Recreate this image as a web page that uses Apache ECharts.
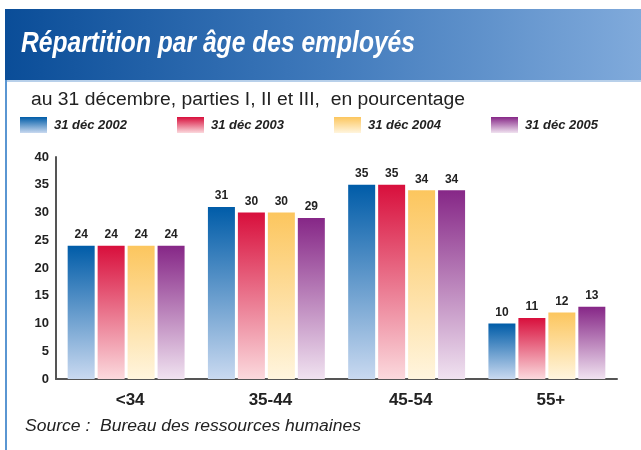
<!DOCTYPE html>
<html><head><meta charset="utf-8">
<script src="https://cdn.jsdelivr.net/npm/echarts@6/dist/echarts.min.js"></script>
<style>html,body{margin:0;padding:0;background:#fff}#c{width:641px;height:450px}</style>
</head><body><div id="c"></div>
<script>
const categories = ['<34', '35-44', '45-54', '55+'];
const seriesNames = ['31 déc 2002', '31 déc 2003', '31 déc 2004', '31 déc 2005'];
const values2002 = [24, 31, 35, 10];
const values2003 = [24, 30, 35, 11];
const values2004 = [24, 30, 34, 12];
const values2005 = [24, 29, 34, 13];
const yTicks = [0, 5, 10, 15, 20, 25, 30, 35, 40];
const titleText = 'Répartition par âge des employés';
const subtitleText = 'au 31 décembre, parties I, II et III,  en pourcentage';
const sourceText = 'Source :  Bureau des ressources humaines';

const allValues = [values2002, values2003, values2004, values2005];
const gradients = [
  ['#005ca8', '#c9d9f0'],
  ['#d80f3c', '#fbd9dd'],
  ['#fcc65e', '#fff5de'],
  ['#862787', '#f0e2f0']
];
const FF = "'Liberation Sans', Arial, sans-serif";

function grad(c) {
  return new echarts.graphic.LinearGradient(0, 0, 0, 1, [
    { offset: 0, color: c[0] }, { offset: 1, color: c[1] }
  ]);
}
const ctx = document.createElement('canvas').getContext('2d');
function fitScale(text, font, width) {
  ctx.font = font;
  return width / ctx.measureText(text).width;
}
function squeezedText(text, font, size, x, baseline, width, fill) {
  return { type: 'text', x: x, y: baseline - Math.round(0.83 * size), scaleX: fitScale(text, font, width), scaleY: 1,
    style: { text: text, font: font, fill: fill, x: 0, y: 0, verticalAlign: 'top', align: 'left' } };
}

const titleFont = 'italic bold 30px ' + FF;
const subFont = '18px ' + FF;
const srcFont = 'italic 16px ' + FF;

const chart = echarts.init(document.getElementById('c'));
chart.setOption({
  animation: false,
  graphic: [
    { type: 'rect', left: 5, top: 9, shape: { width: 636, height: 71 },
      style: { fill: new echarts.graphic.LinearGradient(0, 0, 1, 0, [
        { offset: 0, color: '#0a4d98' }, { offset: 0.5, color: '#3f79bb' }, { offset: 1, color: '#80aadb' }]) } },
    { type: 'rect', left: 5, top: 80, shape: { width: 636, height: 2 }, style: { fill: '#b8d0ea' } },
    { type: 'rect', left: 5, top: 80, shape: { width: 2, height: 370 }, style: { fill: '#5a96d2' } },
    squeezedText(titleText, titleFont, 30, 21, 54, 394, '#fff'),
    squeezedText(subtitleText, subFont, 18, 31, 106, 434, '#222'),
    squeezedText(sourceText, srcFont, 16, 25, 432, 336, '#222')
  ],
  legend: {
    left: 20, top: 117, padding: 0, itemWidth: 27, itemHeight: 16, itemGap: 50,
    icon: 'rect',
    textStyle: { fontFamily: FF, fontStyle: 'italic', fontWeight: 'bold',
      fontSize: 13, color: '#222', width: 78, padding: [3, 0, 0, 2] },
    data: seriesNames
  },
  grid: { left: 56, right: 24, top: 157, bottom: 71 },
  xAxis: {
    type: 'category', data: categories,
    axisLine: { lineStyle: { color: '#555', width: 2 } },
    axisTick: { show: false },
    axisLabel: { fontFamily: FF, fontWeight: 'bold', fontSize: 17, color: '#222', margin: 13, padding: [0, 0, 0, 8] }
  },
  yAxis: {
    type: 'value', min: 0, max: 40, interval: 5,
    axisLine: { show: true, lineStyle: { color: '#555', width: 2 } },
    axisTick: { show: false },
    splitLine: { show: false },
    axisLabel: { fontFamily: FF, fontWeight: 'bold', fontSize: 13, color: '#222', margin: 7,
      formatter: v => yTicks.includes(v) ? String(v) : '' }
  },
  series: seriesNames.map((n, i) => ({
    name: n, type: 'bar', data: allValues[i], barWidth: 27, barGap: '11%',
    itemStyle: { color: grad(gradients[i]) },
    label: { show: true, position: 'top', distance: 5, fontFamily: FF, fontWeight: 'bold', fontSize: 12, color: '#222' }
  }))
});
</script></body></html>
